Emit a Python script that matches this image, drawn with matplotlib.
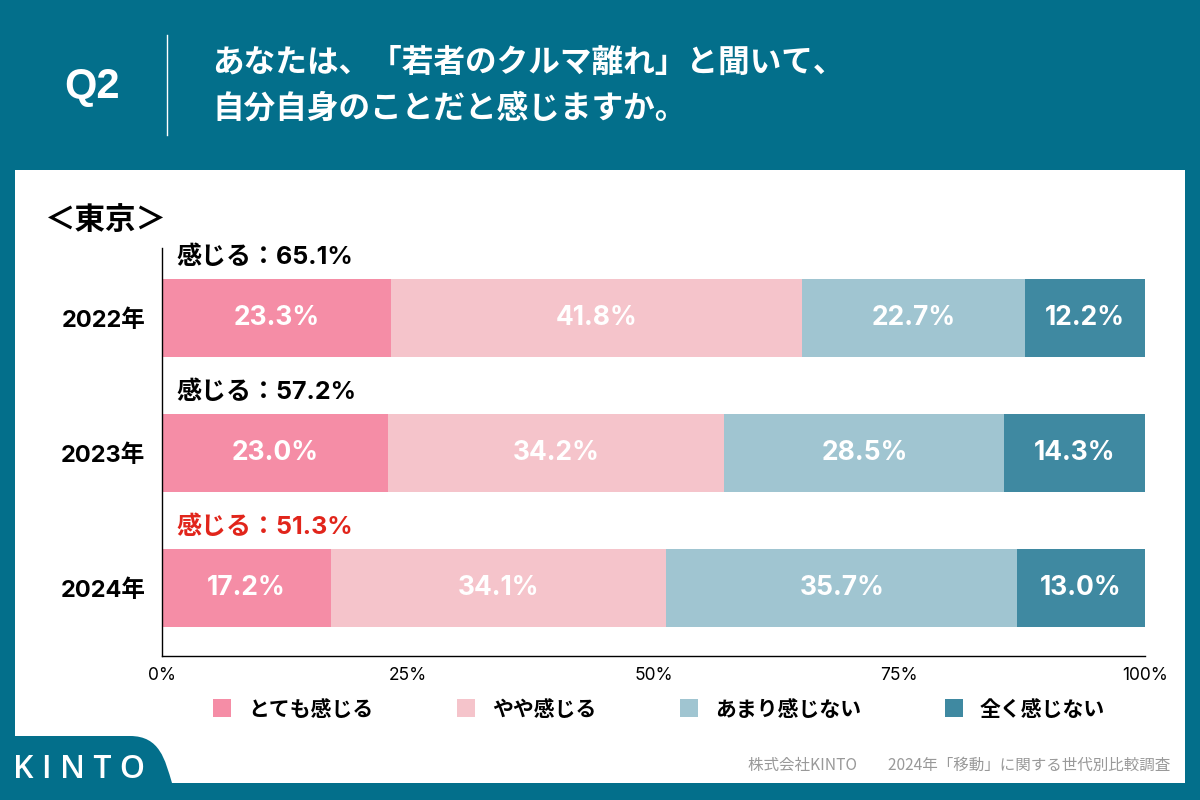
import numpy as np
import matplotlib
matplotlib.use('Agg')
import matplotlib.pyplot as plt
from matplotlib.patches import Rectangle, PathPatch
from matplotlib.path import Path

plt.rcParams['font.family'] = ['Noto Sans CJK JP', 'DejaVu Sans']
num_font = ['Inter', 'Noto Sans CJK JP', 'DejaVu Sans']

# データ
years = ['2022年', '2023年', '2024年']
categories = ['とても感じる', 'やや感じる', 'あまり感じない', '全く感じない']
totemo = [23.3, 23.0, 17.2]
yaya = [41.8, 34.2, 34.1]
amari = [22.7, 28.5, 35.7]
mattaku = [12.2, 14.3, 13.0]
kanjiru = [65.1, 57.2, 51.3]
xticks = [0, 25, 50, 75, 100]

teal = '#036F8B'
colors = ['#F58DA6', '#F5C4CB', '#A0C5D1', '#3F89A1']

fig = plt.figure(figsize=(12, 8), dpi=100)
fig.patch.set_facecolor(teal)

# 背景用の全面Axes (ピクセル座標)
bg = fig.add_axes([0, 0, 1, 1])
bg.set_xlim(0, 1200)
bg.set_ylim(800, 0)
bg.axis('off')
bg.add_patch(Rectangle((15, 170), 1170, 613, facecolor='white', edgecolor='none'))

# 左下のKINTOタブ
verts = [(0, 736), (130, 736), (160, 736), (165, 760), (172, 783),
         (172, 800), (0, 800), (0, 736)]
codes = [Path.MOVETO, Path.LINETO, Path.CURVE4, Path.CURVE4, Path.CURVE4,
         Path.LINETO, Path.LINETO, Path.CLOSEPOLY]
bg.add_patch(PathPatch(Path(verts, codes), facecolor=teal, edgecolor='none'))
bg.text(13, 770, 'K I N T O', color='white', fontsize=23, fontweight='semibold',
        va='center', ha='left', family=['Open Sans', 'DejaVu Sans'])

# ヘッダー
bg.text(92, 87, 'Q2', color='white', fontsize=30, fontweight='bold', ha='center', va='center',
        family=['Liberation Sans', 'DejaVu Sans'])
bg.plot([167, 167], [35, 135], color='white', lw=1)
bg.text(212, 63, 'あなたは、「若者のクルマ離れ」と聞いて、', color='white', fontsize=22.8,
        fontweight='bold', ha='left', va='center')
bg.text(212, 109, '自分自身のことだと感じますか。', color='white', fontsize=22.8,
        fontweight='bold', ha='left', va='center')

bg.text(45, 220, '＜東京＞', color='black', fontsize=22, fontweight='bold', ha='left', va='center')

# 凡例
leg_sq = [213, 457, 680, 945]
for c, lab, xs in zip(colors, categories, leg_sq):
    bg.add_patch(Rectangle((xs, 699), 18, 18, facecolor=c, edgecolor='none'))
    bg.text(xs + 35, 709, lab, fontsize=15, fontweight='bold', ha='left', va='center')

bg.text(1170, 765, '株式会社KINTO　　2024年「移動」に関する世代別比較調査', color='#999999',
        fontsize=11.2, ha='right', va='center')

# グラフ本体
ax = fig.add_axes([162 / 1200, (800 - 656) / 800, (1145 - 162) / 1200, (656 - 248) / 800])
ax.set_facecolor('none')
y = np.arange(len(years))
h = 78 / 135
data = [totemo, yaya, amari, mattaku]
left = np.zeros(len(years))
for vals, c in zip(data, colors):
    vals = np.array(vals)
    ax.barh(y, vals, height=h, left=left, color=c, edgecolor='none')
    for yi, l, v in zip(y, left, vals):
        ax.text(l + v / 2, yi, f'{v:.1f}%', color='white', fontsize=19, fontweight='bold',
                ha='center', va='center', family=num_font)
    left += vals

for yi, k in zip(y, kanjiru):
    col = '#E1251B' if yi == len(years) - 1 else 'black'
    ax.text(1.5, yi - h / 2 - 0.16, f'感じる：{k:.1f}%', color=col, fontsize=18,
            fontweight='bold', ha='left', va='center', family=num_font)

ax.set_xlim(0, 100)
ax.set_ylim(2 + 68 / 135, -70 / 135)
ax.set_xticks(xticks)
ax.set_xticklabels([f'{t}%' for t in xticks], fontsize=12.5, family=num_font)
ax.set_yticks(y)
ax.set_yticklabels(years, fontsize=17, fontweight='bold', family=num_font)
ax.tick_params(axis='both', length=0)
ax.tick_params(axis='x', pad=8)
ax.tick_params(axis='y', pad=12)
for s in ['top', 'right']:
    ax.spines[s].set_visible(False)
ax.spines['left'].set_linewidth(1)
ax.spines['bottom'].set_linewidth(1)

fig.savefig('out.png', dpi=100, facecolor=teal)
